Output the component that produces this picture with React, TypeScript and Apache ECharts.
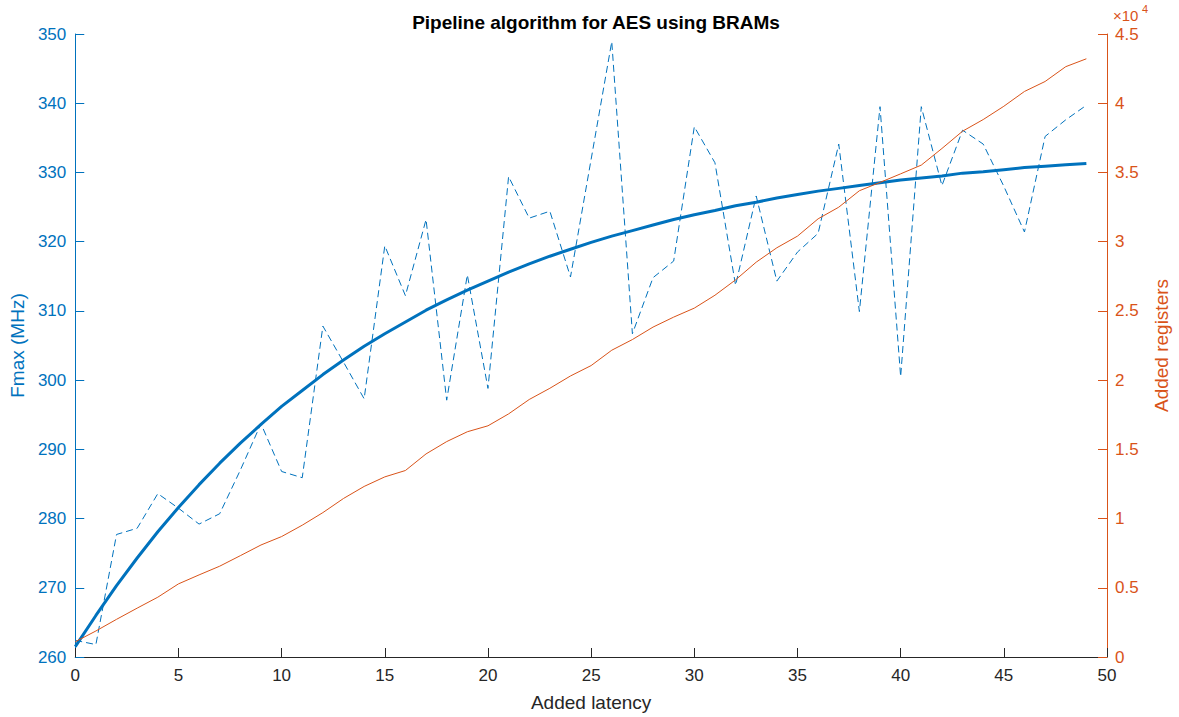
import React, { useEffect, useRef } from "react";
import * as echarts from "echarts";

const latency = [
  0, 1, 2, 3, 4, 5, 6, 7, 8, 9, 10, 11, 12, 13, 14, 15, 16, 17, 18, 19, 20, 21, 22, 23, 24,
  25, 26, 27, 28, 29, 30, 31, 32, 33, 34, 35, 36, 37, 38, 39, 40, 41, 42, 43, 44, 45, 46, 47, 48, 49,
];

const fmaxMeasured = [
  262.4, 261.8, 277.7, 278.6, 283.6, 281.5, 279.2, 280.7, 287.0, 293.7,
  286.8, 285.9, 307.8, 302.6, 297.3, 319.4, 312.2, 323.2, 297.1, 315.2,
  298.8, 329.4, 323.4, 324.4, 314.9, 331.9, 348.9, 306.7, 314.8, 317.2,
  336.6, 331.4, 313.7, 326.6, 314.3, 318.5, 321.2, 334.1, 309.9, 339.5,
  300.5, 339.5, 328.1, 336.1, 334.1, 328.0, 321.4, 335.2, 337.6, 339.7,
];

const fmaxFit = [
  261.5, 266.0, 270.3, 274.3, 278.1, 281.6, 284.9, 288.0, 290.9, 293.6,
  296.2, 298.5, 300.8, 302.9, 304.9, 306.7, 308.4, 310.1, 311.6, 313.0,
  314.3, 315.6, 316.8, 317.9, 318.9, 319.9, 320.8, 321.6, 322.4, 323.2,
  323.9, 324.5, 325.2, 325.7, 326.3, 326.8, 327.3, 327.7, 328.1, 328.5,
  328.9, 329.2, 329.5, 329.9, 330.1, 330.4, 330.7, 330.9, 331.1, 331.3,
];

const addedRegisters = [
  1100, 1880, 2720, 3530, 4320, 5280, 5930, 6560, 7320, 8090,
  8700, 9520, 10430, 11450, 12320, 13010, 13470, 14670, 15560, 16270,
  16700, 17560, 18600, 19410, 20300, 21050, 22160, 22930, 23830, 24550,
  25200, 26130, 27240, 28520, 29560, 30400, 31650, 32490, 33680, 34280,
  34900, 35530, 36730, 37980, 38820, 39780, 40850, 41570, 42640, 43210,
];

const BLUE = "#0072BD";
const ORANGE = "#D95319";
const DARK = "#262626";
const FONT = "'Liberation Sans', Arial, Helvetica, sans-serif";

export default function App() {
  const ref = useRef<HTMLDivElement>(null);

  useEffect(() => {
    if (!ref.current) return;
    const chart = echarts.init(ref.current, undefined, { renderer: "svg" });
    const pairs = (ys: number[]) => latency.map((x, i) => [x, ys[i]]);

    chart.setOption({
      animation: false,
      backgroundColor: "#ffffff",
      textStyle: { fontFamily: FONT },
      title: {
        text: "Pipeline algorithm for AES using BRAMs",
        left: 591,
        textAlign: "center",
        top: 8,
        textStyle: { fontSize: 19, fontWeight: "bold", color: "#000000", fontFamily: FONT },
      },
      grid: { left: 71, right: 67, top: 34, bottom: 59, containLabel: false },
      xAxis: {
        type: "value",
        min: 0,
        max: 50,
        interval: 5,
        name: "Added latency",
        nameLocation: "middle",
        nameGap: 36,
        nameTextStyle: { fontSize: 19, color: DARK, fontFamily: FONT },
        axisLine: { show: true, lineStyle: { color: DARK, width: 1 } },
        axisTick: { show: true, inside: true, length: 9, lineStyle: { color: DARK } },
        axisLabel: { fontSize: 17, color: DARK, margin: 10, fontFamily: FONT },
        splitLine: { show: false },
      },
      yAxis: [
        {
          type: "value",
          position: "left",
          min: 260,
          max: 350,
          interval: 10,
          name: "Fmax (MHz)",
          nameLocation: "middle",
          nameRotate: 90,
          nameGap: 44,
          nameTextStyle: { fontSize: 19, color: BLUE, fontFamily: FONT },
          axisLine: { show: true, onZero: false, lineStyle: { color: BLUE, width: 1 } },
          axisTick: { show: true, inside: true, length: 9, lineStyle: { color: BLUE } },
          axisLabel: { fontSize: 17, color: BLUE, margin: 9, fontFamily: FONT },
          splitLine: { show: false },
        },
        {
          type: "value",
          position: "right",
          min: 0,
          max: 45000,
          interval: 5000,
          name: "Added registers",
          nameLocation: "middle",
          nameRotate: 90,
          nameGap: 45,
          nameTextStyle: { fontSize: 19, color: ORANGE, fontFamily: FONT },
          axisLine: { show: true, onZero: false, lineStyle: { color: ORANGE, width: 1 } },
          axisTick: { show: true, inside: true, length: 9, lineStyle: { color: ORANGE } },
          axisLabel: {
            fontSize: 17,
            color: ORANGE,
            margin: 8,
            fontFamily: FONT,
            formatter: (v: number) => String(Math.round(v / 1000) / 10),
          },
          splitLine: { show: false },
        },
      ],
      graphic: [
        {
          type: "text",
          left: 1113,
          top: 8,
          style: { text: "×10", fontSize: 15, fill: ORANGE, fontFamily: FONT },
        },
        {
          type: "text",
          left: 1142,
          top: 3,
          style: { text: "4", fontSize: 11, fill: ORANGE, fontFamily: FONT },
        },
      ],
      series: [
        {
          name: "Fmax measured",
          type: "line",
          yAxisIndex: 0,
          data: pairs(fmaxMeasured),
          showSymbol: false,
          symbol: "none",
          lineStyle: { color: BLUE, width: 1, type: [7, 4] },
          z: 2,
        },
        {
          name: "Fmax fit",
          type: "line",
          yAxisIndex: 0,
          data: pairs(fmaxFit),
          showSymbol: false,
          symbol: "none",
          smooth: false,
          lineStyle: { color: BLUE, width: 3 },
          z: 3,
        },
        {
          name: "Added registers",
          type: "line",
          yAxisIndex: 1,
          data: pairs(addedRegisters),
          showSymbol: false,
          symbol: "none",
          lineStyle: { color: ORANGE, width: 1 },
          z: 4,
        },
      ],
    });

    return () => chart.dispose();
  }, []);

  return (
    <div
      ref={ref}
      style={{ position: "fixed", left: 0, top: 0, width: 1179, height: 717, background: "#fff" }}
    />
  );
}
